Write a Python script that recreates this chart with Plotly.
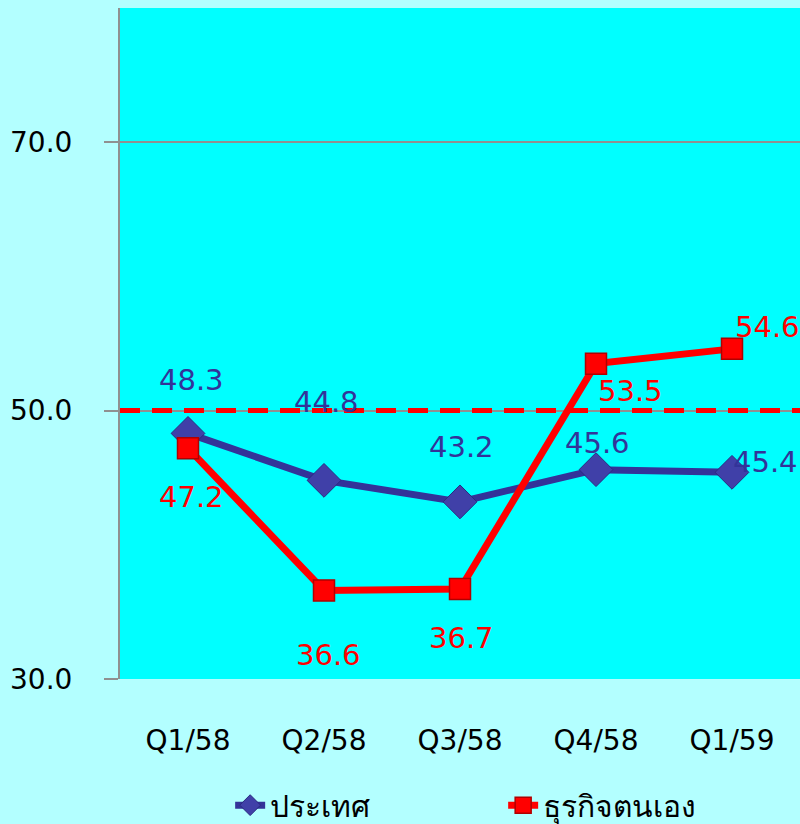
import plotly.graph_objects as go

quarters = ["Q1/58", "Q2/58", "Q3/58", "Q4/58", "Q1/59"]
country = [48.3, 44.8, 43.2, 45.6, 45.4]
own_business = [47.2, 36.6, 36.7, 53.5, 54.6]
series_names = ["ประเทศ", "ธุรกิจตนเอง"]
threshold = 50.0
y_ticks = [30.0, 50.0, 70.0]

BLUE = "#333399"
RED = "#ff0000"
FONT = "Tahoma, 'DejaVu Sans', 'Noto Sans', sans-serif"

fig = go.Figure()

fig.add_trace(go.Scatter(
    x=quarters, y=country, name=series_names[0], mode="lines+markers",
    line=dict(color=BLUE, width=7),
    marker=dict(symbol="diamond", size=26, color="#4040a8",
                line=dict(color="#2a2a80", width=1)),
))
fig.add_trace(go.Scatter(
    x=quarters, y=own_business, name=series_names[1], mode="lines+markers",
    line=dict(color=RED, width=7),
    marker=dict(symbol="square", size=21, color=RED,
                line=dict(color="#b00000", width=1.5)),
))

# dashed reference line at the 50 threshold
fig.add_shape(type="line", xref="paper", x0=0, x1=1, yref="y",
              y0=threshold, y1=threshold,
              line=dict(color=RED, width=5, dash="20px,12px"))

# value labels, offset in pixels from each point
blue_off = [(3, 53), (2, 78), (1, 55), (1, 27), (33, 10)]
red_off = [(3, -49), (4, -65), (1, -49), (34, -27), (35, 22)]
for q, v, (dx, dy) in zip(quarters, country, blue_off):
    fig.add_annotation(x=q, y=v, text=f"{v:.1f}", showarrow=False,
                       xshift=dx, yshift=dy,
                       font=dict(color=BLUE, size=29, family=FONT))
for q, v, (dx, dy) in zip(quarters, own_business, red_off):
    fig.add_annotation(x=q, y=v, text=f"{v:.1f}", showarrow=False,
                       xshift=dx, yshift=dy,
                       font=dict(color=RED, size=29, family=FONT))

fig.update_layout(
    width=800, height=824,
    margin=dict(l=120, r=0, t=8, b=145, autoexpand=False),
    paper_bgcolor="#b3ffff",
    plot_bgcolor="#00ffff",
    font=dict(family=FONT, size=28, color="black"),
    showlegend=True,
    legend=dict(orientation="h", x=0.162, xanchor="left", y=-0.188,
                yanchor="middle", entrywidth=228, entrywidthmode="pixels",
                bgcolor="rgba(0,0,0,0)",
                font=dict(size=30, color="black", family=FONT)),
)
fig.update_xaxes(
    range=[-0.5, len(quarters) - 0.5],
    showline=False, showgrid=False, ticks="",
    tickfont=dict(size=28), ticklabelstandoff=42,
)
fig.update_yaxes(
    range=[30, 80], tickvals=y_ticks,
    ticktext=[f"{t:.1f}" for t in y_ticks],
    showgrid=True, gridcolor="#909090", gridwidth=1.5,
    showline=True, linecolor="#909090", linewidth=2,
    ticks="outside", ticklen=14, tickcolor="#909090", tickwidth=2,
    tickfont=dict(size=28), ticklabelstandoff=26,
    zeroline=False,
)

fig.write_html("out.html")
